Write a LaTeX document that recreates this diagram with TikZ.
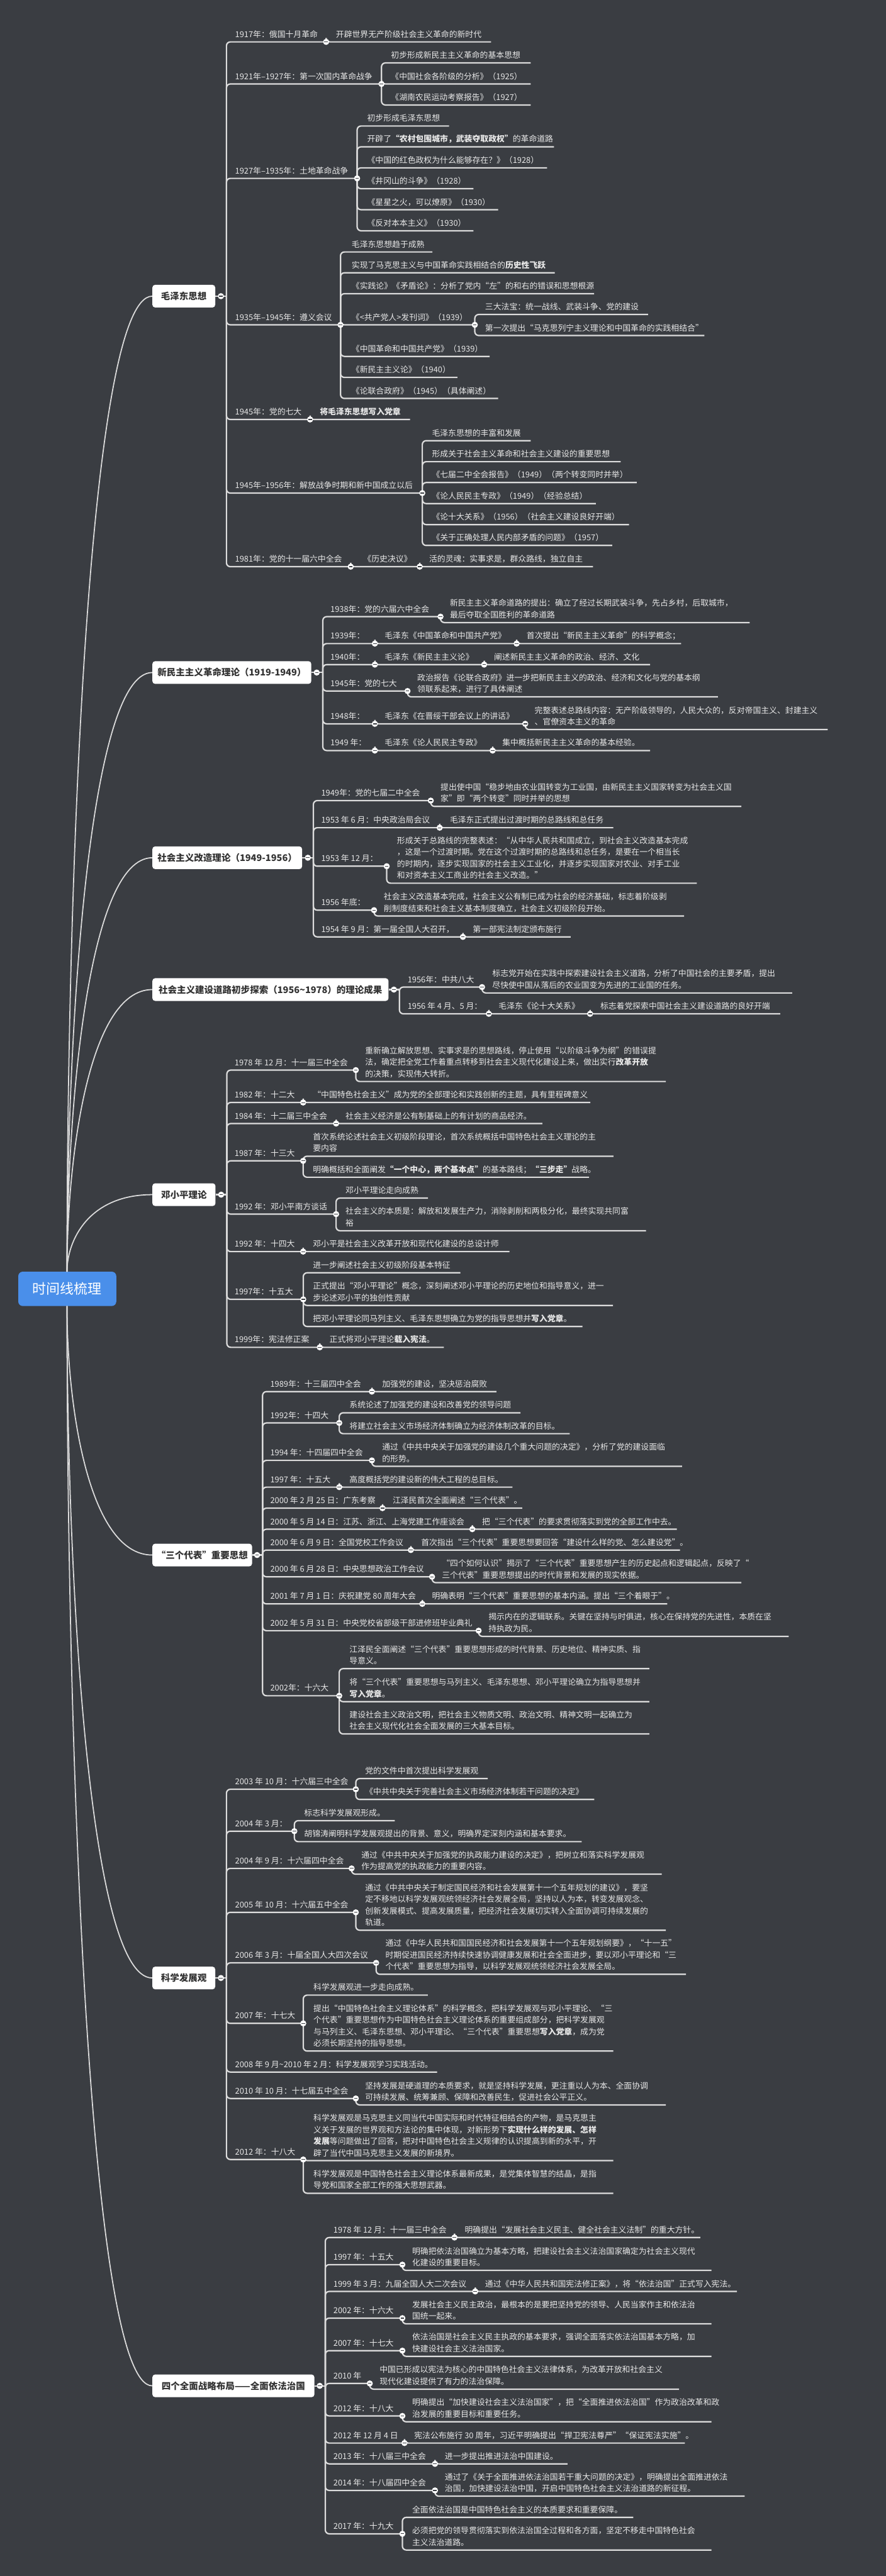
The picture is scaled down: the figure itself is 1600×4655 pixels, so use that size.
\documentclass[tikz,border=0pt]{standalone}
\usepackage{fontspec}
\setmainfont{Noto Sans CJK SC}
\pgfdeclarelayer{fg}
\pgfsetlayers{main,fg}
\definecolor{bgc}{HTML}{3A3D42}
\definecolor{linec}{HTML}{DCDCDC}
\definecolor{txtc}{HTML}{E8E8E8}
\definecolor{boxtxt}{HTML}{333333}
\definecolor{rootc}{HTML}{4A8FEA}
\newcommand\ml[1]{\begin{tabular}[b]{@{}l@{}}#1\end{tabular}}
\newcommand\itm[6]{\coordinate (#1-e) at (#5,#4);\draw[conn] (#2) |- (#1-e);\node[txt] (#1) at (#3,#4-8.5) {#6};}
\newcommand\cir[1]{\begin{pgfonlayer}{fg}\node[mcirc] (#1-c) at (#1-e) {};\end{pgfonlayer}}
\newcommand\lone[6]{\node[l1box, minimum width=#2pt-275pt, anchor=west] (#1) at (275,#3) {#6};\coordinate (#1-e) at (#4,#3);\draw[conn] (#1.east) -- (#1-e);\begin{pgfonlayer}{fg}\node[mcirc] (#1-c) at (#5,#3) {};\end{pgfonlayer}}
\begin{document}
\begin{tikzpicture}[x=1pt,y=-1pt,
  txt/.style={anchor=base west, inner sep=0pt, text=txtc, font=\fontsize{14.6}{21}\selectfont},
  conn/.style={draw=linec, line width=2.5pt, rounded corners=7pt},
  mcirc/.style={circle, fill=white, minimum size=11pt, inner sep=0pt, path picture={\draw[draw=bgc, line width=1.3pt] ([xshift=-3.2pt]path picture bounding box.center) -- ([xshift=3.2pt]path picture bounding box.center);}},
  l1box/.style={rounded corners=5pt, fill=white, minimum height=41pt, inner sep=0pt, text=boxtxt, font=\fontsize{16.5}{20}\selectfont\bfseries},
  rootbox/.style={rounded corners=8pt, fill=rootc, minimum width=177pt, minimum height=62pt, inner sep=0pt, text=white, font=\fontsize{25}{30}\selectfont},
  rootl/.style={draw=linec, line width=2pt}]
\useasboundingbox (0,0) rectangle (1600,4655);
\fill[bgc] (0,0) rectangle (1600,4655);

% root
\node[rootbox] (root) at (121.5,2329) {时间线梳理};
\coordinate (rt) at (121,2298);
\coordinate (rb) at (121,2360);

% level-1 boxes
\draw[rootl] (rt) .. controls (121,1592.9) and (159.5,535.2) .. (275,535.2);
\draw[rootl] (rt) .. controls (121,1864.9) and (159.5,1215.3) .. (275,1215.3);
\draw[rootl] (rt) .. controls (121,1998.8) and (159.5,1550) .. (275,1550);
\draw[rootl] (rt) .. controls (121,2094.1) and (159.5,1788.2) .. (275,1788.2);
\draw[rootl] (rt) .. controls (121,2242.3) and (159.5,2158.8) .. (275,2158.8);
\draw[rootl] (rb) .. controls (121,2540) and (159.5,2810) .. (275,2810);
\draw[rootl] (rb) .. controls (121,2845.7) and (159.5,3574.3) .. (275,3574.3);
\draw[rootl] (rb) .. controls (121,3140.5) and (159.5,4311.3) .. (275,4311.3);

\lone{A}{388.5}{535.2}{409}{399}{毛泽东思想}
\lone{B}{562}{1215.3}{583}{572}{新民主主义革命理论（1919-1949）}
\lone{C}{545.4}{1550}{566}{556}{社会主义改造理论（1949-1956）}
\lone{D}{701.5}{1788.2}{721.4}{711.4}{社会主义建设道路初步探索（1956\textasciitilde1978）的理论成果}
\lone{E}{389}{2158.8}{409.7}{399.4}{邓小平理论}
\lone{F}{455}{2810}{474.2}{464.3}{“三个代表”重要思想}
\lone{G}{388.5}{3574.3}{409}{399}{科学发展观}
\lone{H}{567.6}{4311.3}{587.5}{577.5}{四个全面战略布局——全面依法治国}

% ===== A 毛泽东思想
\itm{a1}{A-e}{424.5}{75.7}{589}{1917年：俄国十月革命}\cir{a1}
\itm{a1a}{a1-e}{606.6}{75.7}{887}{开辟世界无产阶级社会主义革命的新时代}
\itm{a2}{A-e}{424.5}{151.7}{689}{1921年–1927年：第一次国内革命战争}\cir{a2}
\itm{a2a}{a2-e}{706}{113.7}{958.5}{初步形成新民主主义革命的基本思想}
\itm{a2b}{a2-e}{706}{151.7}{958.5}{《中国社会各阶级的分析》（1925）}
\itm{a2c}{a2-e}{706}{189.7}{958.5}{《湖南农民运动考察报告》（1927）}
\itm{a3}{A-e}{424.5}{322.3}{645}{1927年–1935年：土地革命战争}\cir{a3}
\itm{a3a}{a3-e}{663}{227.7}{811}{初步形成毛泽东思想}
\itm{a3b}{a3-e}{663}{265.3}{1000.6}{开辟了\textbf{“农村包围城市，武装夺取政权”}的革命道路}
\itm{a3c}{a3-e}{663}{303.3}{988}{《中国的红色政权为什么能够存在？》（1928）}
\itm{a3d}{a3-e}{663}{341}{855}{《井冈山的斗争》（1928）}
\itm{a3e}{a3-e}{663}{379}{899.6}{《星星之火，可以燎原》（1930）}
\itm{a3f}{a3-e}{663}{417}{855}{《反对本本主义》（1930）}
\itm{a4}{A-e}{424.5}{587}{615}{1935年–1945年：遵义会议}\cir{a4}
\itm{a4a}{a4-e}{635}{455.3}{781}{毛泽东思想趋于成熟}
\itm{a4b}{a4-e}{635}{493}{1002}{实现了马克思主义与中国革命实践相结合的\textbf{历史性飞跃}}
\itm{a4c}{a4-e}{635}{530.7}{1073}{《实践论》《矛盾论》：分析了党内“左”的和右的错误和思想根源}
\itm{a4d}{a4-e}{635}{587}{857.5}{《<共产党人>发刊词》（1939）}\cir{a4d}
\itm{a4d1}{a4d-e}{876}{568.3}{1170.5}{三大法宝：统一战线、武装斗争、党的建设}
\itm{a4d2}{a4d-e}{876}{606.3}{1272}{第一次提出“马克思列宁主义理论和中国革命的实践相结合”}
\itm{a4e}{a4-e}{635}{644}{884.3}{《中国革命和中国共产党》（1939）}
\itm{a4f}{a4-e}{635}{682}{826}{《新民主主义论》（1940）}
\itm{a4g}{a4-e}{635}{720}{899.6}{《论联合政府》（1945）（具体阐述）}
\itm{a5}{A-e}{424.5}{758}{560}{1945年：党的七大}\cir{a5}
\itm{a5a}{a5-e}{577.5}{758}{740.5}{\textbf{将毛泽东思想写入党章}}
\itm{a6}{A-e}{424.5}{891}{762.7}{1945年–1956年：解放战争时期和新中国成立以后}\cir{a6}
\itm{a6a}{a6-e}{780}{796.3}{958.5}{毛泽东思想的丰富和发展}
\itm{a6b}{a6-e}{780}{834.3}{1121}{形成关于社会主义革命和社会主义建设的重要思想}
\itm{a6c}{a6-e}{780}{872}{1150}{《七届二中全会报告》（1949）（两个转变同时并举）}
\itm{a6d}{a6-e}{780}{910}{1076}{《论人民民主专政》（1949）（经验总结）}
\itm{a6e}{a6-e}{780}{948}{1136}{《论十大关系》（1956）（社会主义建设良好开端）}
\itm{a6f}{a6-e}{780}{985.7}{1105.5}{《关于正确处理人民内部矛盾的问题》（1957）}
\itm{a7}{A-e}{424.5}{1024}{633.4}{1981年：党的十一届六中全会}\cir{a7}
\itm{a7a}{a7-e}{656}{1024}{758}{《历史决议》}\cir{a7a}
\itm{a7b}{a7a-e}{775}{1024}{1071}{活的灵魂：实事求是，群众路线，独立自主}

% ===== B 新民主主义革命理论
\itm{b1}{B-e}{596.6}{1114.3}{795.6}{1938年：党的六届六中全会}\cir{b1}
\itm{b1a}{b1-e}{812.4}{1125}{1354}{\ml{新民主主义革命道路的提出：确立了经过长期武装斗争，先占乡村，后取城市，\\最后夺取全国胜利的革命道路}}
\itm{b2}{B-e}{596.6}{1163}{677}{1939年：}\cir{b2}
\itm{b2a}{b2-e}{694.6}{1163}{933}{毛泽东《中国革命和中国共产党》}\cir{b2a}
\itm{b2b}{b2a-e}{951}{1163}{1230}{首次提出“新民主主义革命”的科学概念；}
\itm{b3}{B-e}{596.6}{1201}{677}{1940年：}\cir{b3}
\itm{b3a}{b3-e}{694.6}{1201}{874.4}{毛泽东《新民主主义论》}\cir{b3a}
\itm{b3b}{b3a-e}{892}{1201}{1174}{阐述新民主主义革命的政治、经济、文化}
\itm{b4}{B-e}{596.6}{1248.7}{736}{1945年：党的七大}\cir{b4}
\itm{b4a}{b4-e}{753.5}{1259.3}{1296.7}{\ml{政治报告《论联合政府》进一步把新民主主义的政治、经济和文化与党的基本纲\\领联系起来，进行了具体阐述}}
\itm{b5}{B-e}{596.6}{1308}{677}{1948年：}\cir{b5}
\itm{b5a}{b5-e}{694.6}{1308}{948.6}{毛泽东《在晋绥干部会议上的讲话》}\cir{b5a}
\itm{b5b}{b5a-e}{965.4}{1318.3}{1495}{\ml{完整表述总路线内容：无产阶级领导的，人民大众的，反对帝国主义、封建主义\\、官僚资本主义的革命}}
\itm{b6}{B-e}{596.6}{1356.3}{677}{1949 年：}\cir{b6}
\itm{b6a}{b6-e}{694.6}{1356.3}{889.7}{毛泽东《论人民民主专政》}\cir{b6a}
\itm{b6b}{b6a-e}{907}{1356.3}{1174}{集中概括新民主主义革命的基本经验。}

% ===== C 社会主义改造理论
\itm{c1}{C-e}{580}{1446.7}{778}{1949年：党的七届二中全会}\cir{c1}
\itm{c1a}{c1-e}{795.6}{1457.3}{1339}{\ml{提出使中国“稳步地由农业国转变为工业国，由新民主主义国家转变为社会主义国\\家”即“两个转变”同时并举的思想}}
\itm{c2}{C-e}{580}{1495.7}{794}{1953 年 6 月：中央政治局会议}\cir{c2}
\itm{c2a}{c2-e}{812.4}{1495.7}{1107.7}{毛泽东正式提出过渡时期的总路线和总任务}
\itm{c3}{C-e}{580}{1565.3}{698.4}{1953 年 12 月：}\cir{c3}
\itm{c3a}{c3-e}{716.8}{1596}{1258.5}{\ml{形成关于总路线的完整表述：“从中华人民共和国成立，到社会主义改造基本完成\\，这是一个过渡时期。党在这个过渡时期的总路线和总任务，是要在一个相当长\\的时期内，逐步实现国家的社会主义工业化，并逐步实现国家对农业、对手工业\\和对资本主义工商业的社会主义改造。”}}
\itm{c4}{C-e}{580}{1644.7}{675.5}{1956 年底：}\cir{c4}
\itm{c4a}{c4-e}{693}{1655.3}{1235.5}{\ml{社会主义改造基本完成，社会主义公有制已成为社会的经济基础，标志着阶级剥\\削制度结束和社会主义基本制度确立，社会主义初级阶段开始。}}
\itm{c5}{C-e}{580}{1693}{836}{1954 年 9 月：第一届全国人大召开，}\cir{c5}
\itm{c5a}{c5-e}{853.7}{1693}{1030.5}{第一部宪法制定颁布施行}

% ===== D 社会主义建设道路初步探索
\itm{d1}{D-e}{736}{1783.7}{870.6}{1956年：中共八大}\cir{d1}
\itm{d1a}{d1-e}{889}{1794.3}{1430.6}{\ml{标志党开始在实践中探索建设社会主义道路，分析了中国社会的主要矛盾，提出\\尽快使中国从落后的农业国变为先进的工业国的任务。}}
\itm{d2}{D-e}{736}{1832}{882.8}{1956 年 4 月、5 月：}\cir{d2}
\itm{d2a}{d2-e}{900.4}{1832}{1065.7}{毛泽东《论十大关系》}\cir{d2a}
\itm{d2b}{d2a-e}{1084}{1832}{1409}{标志着党探索中国社会主义建设道路的良好开端}

% ===== E 邓小平理论
\itm{e1}{E-e}{423.6}{1933.7}{642.6}{1978 年 12 月：十一届三中全会}\cir{e1}
\itm{e1a}{e1-e}{659.4}{1954.3}{1202.6}{\ml{重新确立解放思想、实事求是的思想路线，停止使用“以阶级斗争为纲”的错误提\\法，确定把全党工作着重点转移到社会主义现代化建设上来，做出实行\textbf{改革开放}\\的决策，实现伟大转折。}}
\itm{e2}{E-e}{423.6}{1992.3}{547.5}{1982 年：十二大}\cir{e2}
\itm{e2a}{e2-e}{565}{1992.3}{1066}{“中国特色社会主义”成为党的全部理论和实践创新的主题，具有里程碑意义}
\itm{e3}{E-e}{423.6}{2030.3}{607}{1984 年：十二届三中全会}\cir{e3}
\itm{e3a}{e3-e}{624}{2030.3}{979.5}{社会主义经济是公有制基础上的有计划的商品经济。}
\itm{e4}{E-e}{423.6}{2097.7}{547.5}{1987 年：十三大}\cir{e4}
\itm{e4a}{e4-e}{565}{2089.3}{1108}{\ml{首次系统论述社会主义初级阶段理论，首次系统概括中国特色社会主义理论的主\\要内容}}
\itm{e4b}{e4-e}{565}{2127.3}{1064}{明确概括和全面阐发\textbf{“一个中心，两个基本点”}的基本路线；\textbf{“三步走”}战略。}
\itm{e5}{E-e}{423.6}{2194}{607}{1992 年：邓小平南方谈话}\cir{e5}
\itm{e5a}{e5-e}{624}{2165}{772.8}{邓小平理论走向成熟}
\itm{e5b}{e5-e}{624}{2224}{1166.7}{\ml{社会主义的本质是：解放和发展生产力，消除剥削和两极分化，最终实现共同富\\裕}}
\itm{e6}{E-e}{423.6}{2261.7}{547.5}{1992 年：十四大}\cir{e6}
\itm{e6a}{e6-e}{565}{2261.7}{920}{邓小平是社会主义改革开放和现代化建设的总设计师}
\itm{e7}{E-e}{423.6}{2348}{547.7}{1997年：十五大}\cir{e7}
\itm{e7a}{e7-e}{565}{2300}{831.5}{进一步阐述社会主义初级阶段基本特征}
\itm{e7b}{e7-e}{565}{2359}{1107}{\ml{正式提出“邓小平理论”概念，深刻阐述邓小平理论的历史地位和指导意义，进一\\步论述邓小平的独创性贡献}}
\itm{e7c}{e7-e}{565}{2397}{1052}{把邓小平理论同马列主义、毛泽东思想确立为党的指导思想并\textbf{写入党章}。}
\itm{e8}{E-e}{423.6}{2434.7}{577.5}{1999年：宪法修正案}\cir{e8}
\itm{e8a}{e8-e}{595}{2434.7}{801.7}{正式将邓小平理论\textbf{载入宪法}。}

% ===== F 三个代表
\itm{f1}{F-e}{488}{2514.7}{671.6}{1989年：十三届四中全会}\cir{f1}
\itm{f1a}{f1-e}{690}{2514.7}{896.6}{加强党的建设，坚决惩治腐败}
\itm{f2}{F-e}{488}{2571.3}{612.7}{1992年：十四大}\cir{f2}
\itm{f2a}{f2-e}{631}{2553}{940}{系统论述了加强党的建设和改善党的领导问题}
\itm{f2b}{f2-e}{631}{2590.7}{1029}{将建立社会主义市场经济体制确立为经济体制改革的目标。}
\itm{f3}{F-e}{488}{2639}{671.6}{1994 年：十四届四中全会}\cir{f3}
\itm{f3a}{f3-e}{690}{2649.7}{1231.7}{\ml{通过《中共中央关于加强党的建设几个重大问题的决定》，分析了党的建设面临\\的形势。}}
\itm{f4}{F-e}{488}{2687.3}{612.7}{1997 年：十五大}\cir{f4}
\itm{f4a}{f4-e}{631}{2687.3}{925.6}{高度概括党的建设新的伟大工程的总目标。}
\itm{f5}{F-e}{488}{2725.3}{690.8}{2000 年 2 月 25 日：广东考察}\cir{f5}
\itm{f5a}{f5-e}{709}{2725.3}{943}{江泽民首次全面阐述“三个代表”。}
\itm{f6}{F-e}{488}{2763.3}{853}{2000 年 5 月 14 日：江苏、浙江、上海党建工作座谈会}\cir{f6}
\itm{f6a}{f6-e}{870.6}{2763.3}{1222.5}{把“三个代表”的要求贯彻落实到党的全部工作中去。}
\itm{f7}{F-e}{488}{2801}{742}{2000 年 6 月 9 日：全国党校工作会议}\cir{f7}
\itm{f7a}{f7-e}{760.4}{2801}{1228}{首次指出“三个代表”重要思想要回答“建设什么样的党、怎么建设党”。}
\itm{f8}{F-e}{488}{2849.3}{780.3}{2000 年 6 月 28 日：中央思想政治工作会议}\cir{f8}
\itm{f8a}{f8-e}{798}{2860}{1338.8}{\ml{“四个如何认识”揭示了“三个代表”重要思想产生的历史起点和逻辑起点，反映了“\\三个代表”重要思想提出的时代背景和发展的现实依据。}}
\itm{f9}{F-e}{488}{2898.3}{762.7}{2001 年 7 月 1 日：庆祝建党 80 周年大会}\cir{f9}
\itm{f9a}{f9-e}{780}{2898.3}{1205}{明确表明“三个代表”重要思想的基本内涵。提出“三个着眼于”。}
\itm{f10}{F-e}{488}{2946.7}{864.4}{2002 年 5 月 31 日：中央党校省部级干部进修班毕业典礼}\cir{f10}
\itm{f10a}{f10-e}{882}{2957}{1424.5}{\ml{揭示内在的逻辑联系。关键在坚持与时俱进，核心在保持党的先进性，本质在坚\\持执政为民。}}
\itm{f11}{F-e}{488}{3064.3}{612.7}{2002年：十六大}\cir{f11}
\itm{f11a}{f11-e}{631}{3015.3}{1172.8}{\ml{江泽民全面阐述“三个代表”重要思想形成的时代背景、历史地位、精神实质、指\\导意义。}}
\itm{f11b}{f11-e}{631}{3075}{1172.8}{\ml{将“三个代表”重要思想与马列主义、毛泽东思想、邓小平理论确立为指导思想并\\\textbf{写入党章}。}}
\itm{f11c}{f11-e}{631}{3133.3}{1172.8}{\ml{建设社会主义政治文明，把社会主义物质文明、政治文明、精神文明一起确立为\\社会主义现代化社会全面发展的三大基本目标。}}

% ===== G 科学发展观
\itm{g1}{G-e}{424.5}{3233.3}{642.6}{2003 年 10 月：十六届三中全会}\cir{g1}
\itm{g1a}{g1-e}{659.4}{3214}{881}{党的文件中首次提出科学发展观}
\itm{g1b}{g1-e}{659.4}{3251.7}{1073.3}{《中共中央关于完善社会主义市场经济体制若干问题的决定》}
\itm{g2}{G-e}{424.5}{3309}{531.6}{2004 年 3 月：}\cir{g2}
\itm{g2a}{g2-e}{549.2}{3290}{713}{标志科学发展观形成。}
\itm{g2b}{g2-e}{549.2}{3328}{1050.4}{胡锦涛阐明科学发展观提出的背景、意义，明确界定深刻内涵和基本要求。}
\itm{g3}{G-e}{424.5}{3376.3}{635}{2004 年 9 月：十六届四中全会}\cir{g3}
\itm{g3a}{g3-e}{652.5}{3386.7}{1195}{\ml{通过《中共中央关于加强党的执政能力建设的决定》，把树立和落实科学发展观\\作为提高党的执政能力的重要内容。}}
\itm{g4}{G-e}{424.5}{3455.7}{642.6}{2005 年 10 月：十六届五中全会}\cir{g4}
\itm{g4a}{g4-e}{659.4}{3488}{1202.6}{\ml{通过《中共中央关于制定国民经济和社会发展第十一个五年规划的建议》，要坚\\定不移地以科学发展观统领经济社会发展全局，坚持以人为本，转变发展观念、\\创新发展模式、提高发展质量，把经济社会发展切实转入全面协调可持续发展的\\轨道。}}
\itm{g5}{G-e}{424.5}{3547}{679.3}{2006 年 3 月：十届全国人大四次会议}\cir{g5}
\itm{g5a}{g5-e}{696}{3567.7}{1239}{\ml{通过《中华人民共和国国民经济和社会发展第十一个五年规划纲要》，“十一五”\\时期促进国民经济持续快速协调健康发展和社会全面进步，要以邓小平理论和“三\\个代表”重要思想为指导，以科学发展观统领经济社会发展全局。}}
\itm{g6}{G-e}{424.5}{3656.3}{547.7}{2007 年：十七大}\cir{g6}
\itm{g6a}{g6-e}{566}{3605.3}{772.6}{科学发展观进一步走向成熟。}
\itm{g6b}{g6-e}{566}{3706.3}{1107.7}{\ml{提出“中国特色社会主义理论体系”的科学概念，把科学发展观与邓小平理论、“三\\个代表”重要思想作为中国特色社会主义理论体系的重要组成部分，把科学发展观\\与马列主义、毛泽东思想、邓小平理论、“三个代表”重要思想\textbf{写入党章}，成为党\\必须长期坚持的指导思想。}}
\itm{g7}{G-e}{424.5}{3744.3}{789.5}{2008 年 9 月\textasciitilde2010 年 2 月：科学发展观学习实践活动。}
\itm{g8}{G-e}{424.5}{3792}{642.6}{2010 年 10 月：十七届五中全会}\cir{g8}
\itm{g8a}{g8-e}{659.4}{3803.7}{1202.6}{\ml{坚持发展是硬道理的本质要求，就是坚持科学发展，更注重以人为本、全面协调\\可持续发展、统筹兼顾、保障和改善民生，促进社会公平正义。}}
\itm{g9}{G-e}{424.5}{3902.3}{547.7}{2012 年：十八大}\cir{g9}
\itm{g9a}{g9-e}{566}{3904.3}{1107.7}{\ml{科学发展观是马克思主义同当代中国实际和时代特征相结合的产物，是马克思主\\义关于发展的世界观和方法论的集中体现，对新形势下\textbf{实现什么样的发展、怎样}\\\textbf{发展}等问题做出了回答，把对中国特色社会主义规律的认识提高到新的水平，开\\辟了当代中国马克思主义发展的新境界。}}
\itm{g9b}{g9-e}{566}{3963.3}{1107.7}{\ml{科学发展观是中国特色社会主义理论体系最新成果，是党集体智慧的结晶，是指\\导党和国家全部工作的强大思想武器。}}

% ===== H 全面依法治国
\itm{h1}{H-e}{602}{4043.3}{820.8}{1978 年 12 月：十一届三中全会}\cir{h1}
\itm{h1a}{h1-e}{839.2}{4043.3}{1264.6}{明确提出“发展社会主义民主、健全社会主义法制”的重大方针。}
\itm{h2}{H-e}{602}{4092.3}{726.7}{1997 年：十五大}\cir{h2}
\itm{h2a}{h2-e}{744.3}{4102.7}{1285}{\ml{明确把依法治国确立为基本方略，把建设社会主义法治国家确定为社会主义现代\\化建设的重要目标。}}
\itm{h3}{H-e}{602}{4140.7}{858.3}{1999 年 3 月：九届全国人大二次会议}\cir{h3}
\itm{h3a}{h3-e}{876}{4140.7}{1331}{通过《中华人民共和国宪法修正案》，将“依法治国”正式写入宪法。}
\itm{h4}{H-e}{602}{4189}{726.7}{2002 年：十六大}\cir{h4}
\itm{h4a}{h4-e}{744.3}{4199.3}{1285}{\ml{发展社会主义民主政治，最根本的是要把坚持党的领导、人民当家作主和依法治\\国统一起来。}}
\itm{h5}{H-e}{602}{4247.7}{726.7}{2007 年：十七大}\cir{h5}
\itm{h5a}{h5-e}{744.3}{4258}{1285}{\ml{依法治国是社会主义民主执政的基本要求，强调全面落实依法治国基本方略，加\\快建设社会主义法治国家。}}
\itm{h6}{H-e}{602}{4307}{667.8}{2010 年}\cir{h6}
\itm{h6a}{h6-e}{685.4}{4317.3}{1226.3}{\ml{中国已形成以宪法为核心的中国特色社会主义法律体系，为改革开放和社会主义\\现代化建设提供了有力的法治保障。}}
\itm{h7}{H-e}{602}{4365.7}{726.7}{2012 年：十八大}\cir{h7}
\itm{h7a}{h7-e}{744.3}{4376.3}{1285}{\ml{明确提出“加快建设社会主义法治国家”，把“全面推进依法治国”作为政治改革和政\\治发展的重要目标和重要任务。}}
\itm{h8}{H-e}{602}{4414.7}{730.5}{2012 年 12 月 4 日}\cir{h8}
\itm{h8a}{h8-e}{748}{4414.7}{1237}{宪法公布施行 30 周年，习近平明确提出“捍卫宪法尊严”“保证宪法实施”。}
\itm{h9}{H-e}{602}{4452.3}{785.6}{2013 年：十八届三中全会}\cir{h9}
\itm{h9a}{h9-e}{803.2}{4452.3}{1025}{进一步提出推进法治中国建设。}
\itm{h10}{H-e}{602}{4500.3}{785.6}{2014 年：十八届四中全会}\cir{h10}
\itm{h10a}{h10-e}{803.2}{4510.7}{1345}{\ml{通过了《关于全面推进依法治国若干重大问题的决定》，明确提出全面推进依法\\治国，加快建设法治中国，开启中国特色社会主义法治道路的新征程。}}
\itm{h11}{H-e}{602}{4578.7}{726.7}{2017 年：十九大}\cir{h11}
\itm{h11a}{h11-e}{744.3}{4549}{1143.7}{全面依法治国是中国特色社会主义的本质要求和重要保障。}
\itm{h11b}{h11-e}{744.3}{4608}{1285}{\ml{必须把党的领导贯彻落实到依法治国全过程和各方面，坚定不移走中国特色社会\\主义法治道路。}}
\end{tikzpicture}
\end{document}
